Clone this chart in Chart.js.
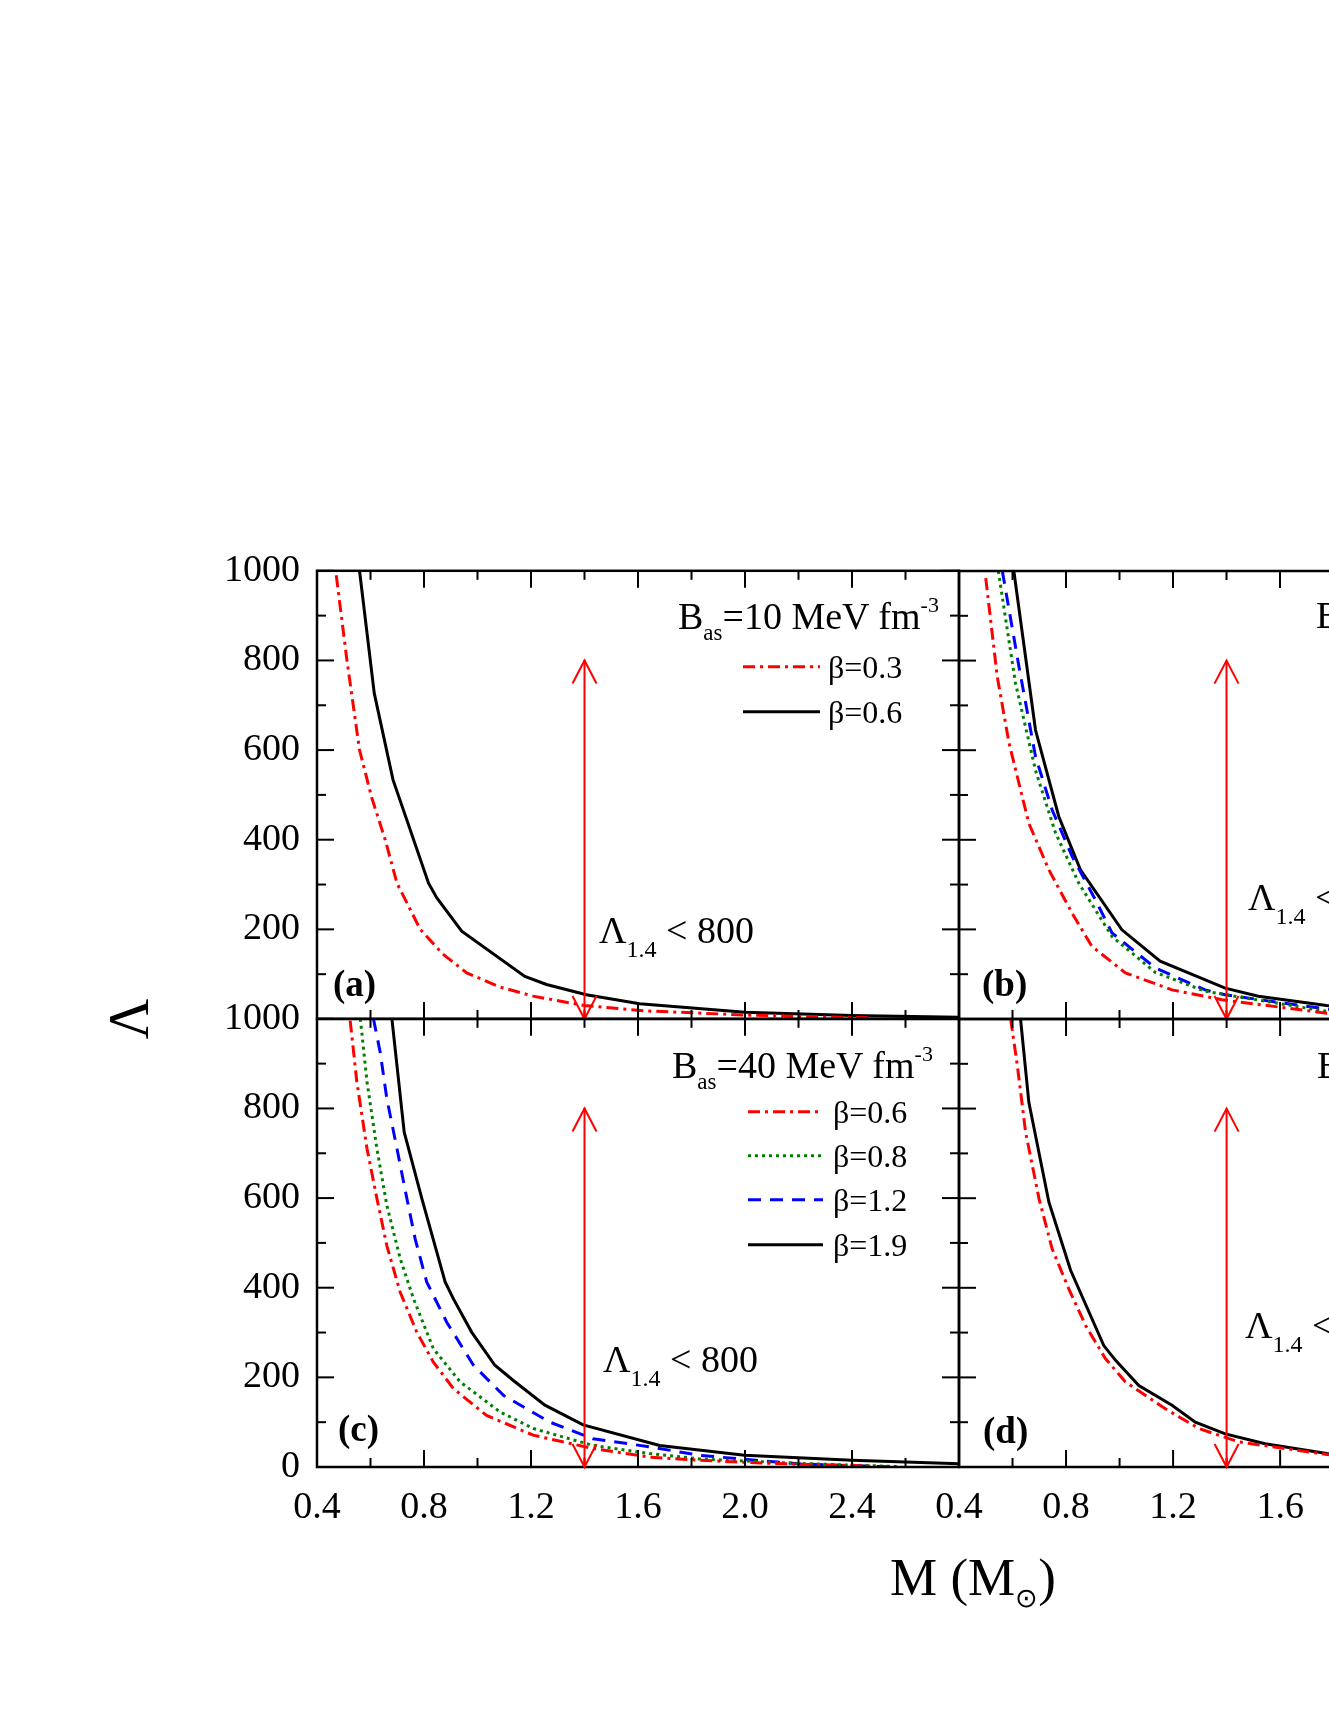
<!DOCTYPE html>
<html>
<head>
<meta charset="utf-8">
<script src="https://cdn.jsdelivr.net/npm/chart.js@4.4.0/dist/chart.umd.min.js"></script>
<style>
  html, body { margin: 0; padding: 0; background: #fff; overflow: hidden; width: 1329px; height: 1719px; }
  #fig { position: relative; width: 1329px; height: 1719px; overflow: hidden;
         font-family: "Liberation Serif", "Times New Roman", serif; color: #000; }
  #fig canvas { position: absolute; }
  .txt { position: absolute; line-height: 1; white-space: nowrap; }
</style>
</head>
<body>
<div id="fig"></div>
<script>
// ---- data: mass M (Msun) and tidal deformability Lambda ----

// axis ticks
const xTicks = [0.4, 0.6, 0.8, 1.0, 1.2, 1.4, 1.6, 1.8, 2.0, 2.2, 2.4, 2.6, 2.8];
const yTicks = [0, 100, 200, 300, 400, 500, 600, 700, 800, 900, 1000];

// (a) B_as = 10 MeV fm^-3
const mA03 = [0.472, 0.512, 0.559, 0.605, 0.655, 0.699, 0.786, 0.87, 0.96, 1.08, 1.208, 1.40, 1.63, 2.0, 2.25, 2.46];
const lamA03 = [990, 800, 600, 493, 400, 303, 200, 145, 103, 72, 51, 30, 18, 9, 5, 3];
const mA06 = [0.559, 0.614, 0.684, 0.817, 0.848, 0.941, 1.177, 1.258, 1.407, 1.606, 2.0, 2.4, 2.8];
const lamA06 = [1000, 727, 534, 303, 270, 196, 95, 77, 54, 34, 15, 8, 4];

// (b)
const mB1 = [0.5, 0.543, 0.587, 0.661, 0.736, 0.823, 0.897, 1.022, 1.196, 1.383, 1.774, 2.1, 2.4];
const lamB1 = [984, 764, 616, 437, 333, 236, 162, 103, 65, 43, 13, 7, 4];
const mB2 = [0.547, 0.611, 0.686, 0.761, 0.848, 0.972, 1.134, 1.32, 1.774, 2.1, 2.4];
const lamB2 = [1000, 750, 555, 415, 303, 184, 104, 62, 17, 9, 5];
const mB3 = [0.562, 0.624, 0.686, 0.748, 0.823, 0.91, 0.972, 1.134, 1.32, 1.395, 1.774, 2.1, 2.4];
const lamB3 = [1000, 787, 586, 467, 363, 266, 192, 114, 65, 54, 22, 11, 6];
const mB4 = [0.605, 0.686, 0.773, 0.854, 1.009, 1.152, 1.395, 1.519, 1.774, 2.1, 2.4, 2.8];
const lamB4 = [1000, 645, 452, 333, 199, 129, 69, 51, 30, 16, 9, 5];

// (c) B_as = 40 MeV fm^-3
const mC06 = [0.524, 0.549, 0.587, 0.624, 0.661, 0.711, 0.773, 0.835, 0.91, 1.034, 1.208, 1.432, 1.644, 1.83, 2.1, 2.47];
const lamC06 = [996, 859, 710, 599, 494, 390, 301, 234, 175, 115, 71, 41, 22, 15, 8, 2];
const mC08 = [0.562, 0.587, 0.624, 0.661, 0.711, 0.761, 0.835, 0.935, 1.084, 1.208, 1.432, 1.644, 1.83, 2.2, 2.57];
const lamC08 = [1000, 859, 710, 584, 465, 375, 264, 190, 123, 86, 48, 30, 18, 8, 1];
const mC12 = [0.611, 0.636, 0.661, 0.699, 0.736, 0.767, 0.81, 0.885, 0.985, 1.097, 1.271, 1.432, 1.644, 1.83, 2.2, 2.56];
const lamC12 = [1000, 926, 822, 710, 599, 509, 413, 323, 227, 160, 100, 63, 45, 26, 7, 0];
const mC19 = [0.68, 0.726, 0.792, 0.879, 0.91, 0.978, 1.065, 1.134, 1.252, 1.395, 1.681, 1.998, 2.4, 2.8];
const lamC19 = [1000, 747, 599, 413, 375, 301, 227, 193, 138, 94, 48, 26, 15, 7];

// (d)
const mD1 = [0.593, 0.618, 0.649, 0.699, 0.748, 0.81, 0.873, 0.947, 1.022, 1.171, 1.296, 1.445, 1.774, 2.1, 2.4];
const lamD1 = [1000, 896, 747, 599, 487, 398, 316, 242, 190, 130, 86, 56, 28, 15, 8];
const mD2 = [0.630, 0.661, 0.736, 0.817, 0.941, 0.985, 1.072, 1.196, 1.283, 1.395, 1.544, 1.774, 2.1, 2.4, 2.8];
const lamD2 = [1000, 814, 591, 439, 271, 238, 182, 138, 100, 74, 52, 30, 17, 10, 6];

// constraint arrow Lambda_1.4 < 800
const arrowM = 1.4;
const arrowLam = [0, 800];

// ---- styles ----
const RED = { borderColor: '#ff0000', borderDash: [12, 5, 3, 5], borderWidth: 3 };
const GREEN = { borderColor: '#008000', borderDash: [3, 4], borderWidth: 3 };
const BLUE = { borderColor: '#0000ff', borderDash: [13, 9], borderWidth: 3 };
const BLACK = { borderColor: '#000000', borderDash: [], borderWidth: 3 };

function series(ms, lams, style, label) {
  return Object.assign({
    label: label,
    data: ms.map((m, i) => ({ x: m, y: lams[i] })),
    pointRadius: 0,
    tension: 0,
    fill: false
  }, style);
}

// frame, inward ticks, arrow and legend samples
const decoPlugin = {
  id: 'deco',
  afterDatasetsDraw(chart, args, opts) {
    const { ctx, chartArea: a, scales: { x, y } } = chart;
    ctx.save();
    ctx.strokeStyle = '#000';
    ctx.setLineDash([]);
    ctx.lineWidth = 2;
    const seg = (x1, y1, x2, y2) => { ctx.beginPath(); ctx.moveTo(x1, y1); ctx.lineTo(x2, y2); ctx.stroke(); };
    xTicks.forEach((v, i) => {
      const px = x.getPixelForValue(v);
      const len = i % 2 === 0 ? 17 : 9;
      seg(px, a.top, px, a.top + len);
      seg(px, a.bottom, px, a.bottom - len);
    });
    yTicks.forEach(v => {
      const py = y.getPixelForValue(v);
      const len = v % 200 === 0 ? 17 : 9;
      seg(a.left, py, a.left + len, py);
      seg(a.right, py, a.right - len, py);
    });
    ctx.lineWidth = 2.5;
    ctx.strokeRect(a.left, a.top, a.right - a.left, a.bottom - a.top);

    // arrow
    ctx.strokeStyle = '#ff0000';
    ctx.lineWidth = 2;
    const ax = x.getPixelForValue(arrowM);
    const y0 = y.getPixelForValue(arrowLam[0]);
    const y1 = y.getPixelForValue(arrowLam[1]);
    seg(ax, y0, ax, y1);
    ctx.beginPath();
    ctx.moveTo(ax - 12, y1 + 23); ctx.lineTo(ax, y1); ctx.lineTo(ax + 12, y1 + 23);
    ctx.stroke();
    ctx.beginPath();
    ctx.moveTo(ax - 12, y0 - 23); ctx.lineTo(ax, y0); ctx.lineTo(ax + 12, y0 - 23);
    ctx.stroke();

    // legend line samples
    (opts.legend || []).forEach(e => {
      const ds = chart.data.datasets[e.i];
      ctx.strokeStyle = ds.borderColor;
      ctx.lineWidth = ds.borderWidth;
      ctx.setLineDash(ds.borderDash);
      seg(a.left + e.x1, a.top + e.dy, a.left + e.x2, a.top + e.dy);
    });
    ctx.restore();
  }
};

const fig = document.getElementById('fig');
const PW = 642, PH = 448;
const PAD_L = 130, PAD_T = 30, PAD_R = 30, PAD_B = 90;
const tickFont = { family: 'Liberation Serif', size: 38 };

function makePanel(left, top, datasets, o) {
  const cv = document.createElement('canvas');
  cv.width = PW + PAD_L + PAD_R;
  cv.height = PH + PAD_T + PAD_B;
  fig.appendChild(cv);
  const chart = new Chart(cv.getContext('2d'), {
    type: 'line',
    data: { datasets: datasets },
    plugins: [decoPlugin],
    options: {
      responsive: false,
      maintainAspectRatio: false,
      devicePixelRatio: 1,
      animation: false,
      layout: { padding: { top: PAD_T, right: PAD_R, left: 0, bottom: 0 } },
      plugins: { legend: { display: false }, tooltip: { enabled: false }, deco: { legend: o.legend } },
      scales: {
        x: {
          type: 'linear', min: 0.4, max: 2.8,
          afterFit: s => { s.height = PAD_B; },
          grid: { display: false, drawTicks: false },
          border: { display: false },
          ticks: {
            display: o.xLabels, stepSize: 0.4, padding: 18, color: '#000', font: tickFont,
            maxRotation: 0, autoSkip: false,
            callback: v => (o.hideLastX && Math.abs(v - 2.8) < 1e-6) ? '' : Number(v).toFixed(1)
          }
        },
        y: {
          type: 'linear', min: 0, max: 1000,
          afterFit: s => { s.width = PAD_L; },
          grid: { display: false, drawTicks: false },
          border: { display: false },
          ticks: {
            display: o.yLabels, stepSize: 200, padding: 17, color: '#000', font: tickFont,
            callback: v => (o.hideZeroY && v === 0) ? '' : String(v)
          }
        }
      }
    }
  });
  // make the plot area exactly PW x PH, then place it at (left, top)
  for (let k = 0; k < 3; k++) {
    const ca = chart.chartArea;
    const dw = Math.round(PW - (ca.right - ca.left)), dh = Math.round(PH - (ca.bottom - ca.top));
    if (!dw && !dh) break;
    chart.resize(chart.width + dw, chart.height + dh);
  }
  const ca = chart.chartArea;
  cv.style.left = (left - ca.left) + 'px';
  cv.style.top = (top - ca.top) + 'px';
  return chart;
}

// panel (a)
makePanel(317, 571, [series(mA03, lamA03, RED, 'β=0.3'), series(mA06, lamA06, BLACK, 'β=0.6')],
  { xLabels: false, yLabels: true, hideZeroY: true,
    legend: [{ i: 0, x1: 426, x2: 503, dy: 96 }, { i: 1, x1: 426, x2: 503, dy: 141 }] });
// panel (b)
makePanel(959, 571, [series(mB1, lamB1, RED), series(mB2, lamB2, GREEN), series(mB3, lamB3, BLUE), series(mB4, lamB4, BLACK)],
  { xLabels: false, yLabels: false, legend: [] });
// panel (c)
makePanel(317, 1019, [series(mC06, lamC06, RED, 'β=0.6'), series(mC08, lamC08, GREEN, 'β=0.8'),
                      series(mC12, lamC12, BLUE, 'β=1.2'), series(mC19, lamC19, BLACK, 'β=1.9')],
  { xLabels: true, yLabels: true, hideLastX: true,
    legend: [{ i: 0, x1: 431, x2: 506, dy: 93 }, { i: 1, x1: 431, x2: 506, dy: 137 },
             { i: 2, x1: 431, x2: 506, dy: 181 }, { i: 3, x1: 431, x2: 506, dy: 226 }] });
// panel (d)
makePanel(959, 1019, [series(mD1, lamD1, RED), series(mD2, lamD2, BLACK)],
  { xLabels: true, yLabels: false, legend: [] });

// ---- texts ----
function addText(html, x, base, size, bold) {
  const d = document.createElement('div');
  d.className = 'txt';
  d.style.left = x + 'px';
  d.style.top = (base - 0.8375 * size) + 'px';
  d.style.fontSize = size + 'px';
  if (bold) d.style.fontWeight = 'bold';
  d.innerHTML = html;
  fig.appendChild(d);
  return d;
}
const sub = (t, size, dy) => '<span style="position:relative;font-size:' + size + 'px;top:' + dy + 'px">' + t + '</span>';

function bas(val) {
  return 'B' + sub('as', 23, 11) + '=' + val + ' MeV fm' + sub('-3', 22, -17);
}
function lam14() {
  return 'Λ' + sub('1.4', 24, 14) + ' &lt; 800';
}

addText(bas(10), 678, 629, 38);
addText(bas(20), 1316, 628, 38);
addText(bas(40), 672, 1078, 38);
addText(bas(80), 1317, 1078, 38);

addText('β=0.3', 828, 678, 32);
addText('β=0.6', 828, 723, 32);
addText('β=0.6', 833, 1123, 32);
addText('β=0.8', 833, 1167, 32);
addText('β=1.2', 833, 1211, 32);
addText('β=1.9', 833, 1256, 32);

addText(lam14(), 599, 943, 38);
addText(lam14(), 1248, 910, 38);
addText(lam14(), 603, 1372, 38);
addText(lam14(), 1245, 1338, 38);

addText('(a)', 333, 996, 37, true);
addText('(b)', 982, 996, 37, true);
addText('(c)', 338, 1441, 37, true);
addText('(d)', 983, 1443, 37, true);

// axis titles
addText('M (M' + sub('⊙', 27, 12) + ')', 890, 1595, 53);
const yl = addText('Λ', 0, 0, 56);
yl.style.left = '129px';
yl.style.top = '1019px';
yl.style.transform = 'translate(-50%, -50%) rotate(-90deg)';
</script>
</body>
</html>
